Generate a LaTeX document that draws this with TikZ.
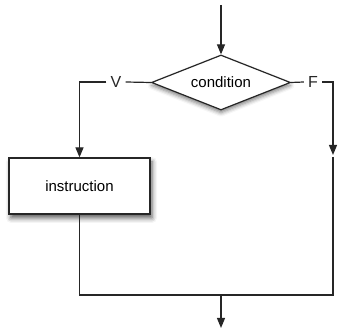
\documentclass[tikz,border=0pt]{standalone}
\usepackage{fontspec}
\setmainfont{Liberation Sans}
\usetikzlibrary{shapes.geometric,arrows.meta,shadows.blur}
\begin{document}
\begin{tikzpicture}[x=1pt,y=1pt,
  line/.style={draw=black!85, line width=1.2pt},
  arr/.style={line, -{Triangle[width=8pt,length=10pt]}},
  lbl/.style={inner sep=4pt, font=\fontsize{16}{19}\selectfont, text=black!85},
  decision/.style={diamond, draw=black!85, line width=1.2pt, fill=white, aspect=2.5, inner sep=0pt,
    minimum width=139pt, minimum height=55pt, font=\fontsize{15}{18}\selectfont,
    blur shadow={shadow xshift=0pt, shadow yshift=-3pt, shadow blur radius=4pt, shadow opacity=50}},
  process/.style={rectangle, draw=black!85, line width=1.2pt, fill=white, inner sep=0pt,
    minimum width=141pt, minimum height=56pt, font=\fontsize{15}{18}\selectfont,
    blur shadow={shadow xshift=2pt, shadow yshift=-4pt, shadow blur radius=5pt, shadow opacity=65}}
]
\useasboundingbox (0,0) rectangle (338,331);
\coordinate (start) at (221,326);
\node[decision] (cond) at (221,248.5) {condition};
\node[lbl] (V) at (116,249) {V};
\node[lbl] (F) at (313,249) {F};
\node[process] (instr) at (79.5,145) {instruction};
\coordinate (rarrow) at (333,176);
\coordinate (rtop) at (333,174);
\coordinate (rbot) at (333,36);
\coordinate (lbot) at (79.5,36);
\coordinate (merge) at (221,36);
\coordinate (end) at (221,3);
\draw[arr] (start) -- (cond.north);
\draw[line] (cond.west) -- (V.east);
\draw[arr] (V.west) -| (instr.north);
\draw[line] (cond.east) -- (F.west);
\draw[arr] (F.east) -| (rarrow);
\draw[line] (rtop) -- (rbot) -- (lbot) -- (instr.south);
\draw[arr] (merge) -- (end);
\end{tikzpicture}
\end{document}
